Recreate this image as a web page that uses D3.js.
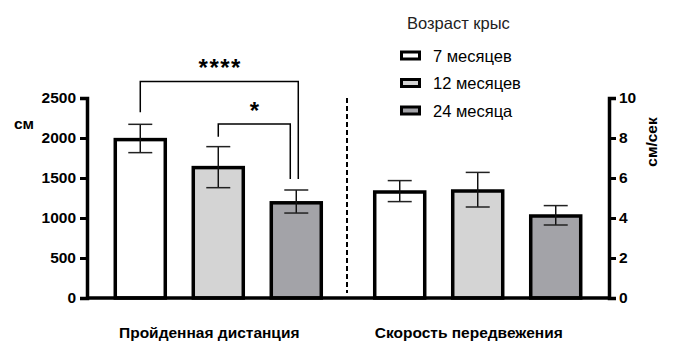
<!DOCTYPE html>
<html><head><meta charset="utf-8">
<script src="https://cdn.jsdelivr.net/npm/d3@7"></script>
<style>
body{margin:0;background:#fff;}
text{font-family:"Liberation Sans",Arial,sans-serif;}
</style></head>
<body><svg id="c" width="675" height="358"></svg>
<script>
const groups = ["Пройденная дистанция", "Скорость передвежения"];
const series = ["7 месяцев", "12 месяцев", "24 месяца"];
const colors = ["#ffffff", "#d4d4d4", "#a3a3a8"];
const distMean = [1980, 1630, 1190];
const distErrLo = [1817, 1379, 1062];
const distErrHi = [2171, 1892, 1350];
const speedMean = [5.3, 5.35, 4.1];
const speedErrLo = [4.82, 4.55, 3.65];
const speedErrHi = [5.87, 6.28, 4.62];
const leftTicks = [0, 500, 1000, 1500, 2000, 2500];
const rightTicks = [0, 2, 4, 6, 8, 10];
const legendTitle = "Возраст крыс";
const leftLabel = "см";
const rightLabel = "см/сек";
// significance: [fromSeries, toSeries, levelValue(cm), label]
const sigFrom = [0, 1];
const sigTo = [2, 2];
const sigLevel = [2705, 2175];
const sigLabel = ["****", "*"];

const svg = d3.select("#c");
const X0 = 87, X1 = 609, Y0 = 298, Y1 = 98;
const yL = d3.scaleLinear().domain([0, 2500]).range([Y0, Y1]);
const yR = d3.scaleLinear().domain([0, 10]).range([Y0, Y1]);
const xg = d3.scalePoint().domain(groups).range([X0, X1]).padding(0.506);
const xs = d3.scaleBand().domain(series).range([-103, 103]).paddingInner(0.359).paddingOuter(0);

const data = [
  {g: groups[0], y: yL, mean: distMean, lo: distErrLo, hi: distErrHi},
  {g: groups[1], y: yR, mean: speedMean, lo: speedErrLo, hi: speedErrHi}
];

data.forEach(d => {
  const cx = xg(d.g);
  series.forEach((s, i) => {
    const x = cx + xs(s), w = xs.bandwidth();
    const c = x + w / 2;
    svg.append("rect").attr("x", x).attr("y", d.y(d.mean[i])).attr("width", w)
      .attr("height", Y0 - d.y(d.mean[i])).attr("fill", colors[i])
      .attr("stroke", "#000").attr("stroke-width", 3.5);
    svg.append("line").attr("x1", c).attr("x2", c).attr("y1", d.y(d.hi[i])).attr("y2", d.y(d.lo[i]))
      .attr("stroke", "#111").attr("stroke-width", 1.5);
    [d.hi[i], d.lo[i]].forEach(v => {
      svg.append("line").attr("x1", c - 12).attr("x2", c + 12).attr("y1", d.y(v)).attr("y2", d.y(v))
        .attr("stroke", "#222").attr("stroke-width", 1.5);
    });
  });
});

// baseline
svg.append("line").attr("x1", X0).attr("x2", X1).attr("y1", Y0).attr("y2", Y0)
  .attr("stroke", "#000").attr("stroke-width", 3.5);

// left axis
const gL = svg.append("g").attr("transform", `translate(${X0},0)`)
  .call(d3.axisLeft(yL).tickValues(leftTicks).tickSize(7).tickPadding(4).tickFormat(d3.format("d")));
// right axis
const gR = svg.append("g").attr("transform", `translate(${X1},0)`)
  .call(d3.axisRight(yR).tickValues(rightTicks).tickSize(7).tickPadding(3).tickFormat(d3.format("d")));
[gL, gR].forEach(g => {
  g.select(".domain").attr("stroke", "#000").attr("stroke-width", 3.5);
  g.selectAll(".tick line").attr("stroke", "#000").attr("stroke-width", 3);
  g.selectAll(".tick text").attr("font-size", 15.5).attr("font-weight", "bold").attr("fill", "#000")
    .attr("font-family", "Liberation Sans, Arial, sans-serif");
});

svg.append("text").attr("x", 24).attr("y", 129).attr("text-anchor", "middle")
  .attr("font-size", 15.5).attr("font-weight", "bold").text(leftLabel);
svg.append("text").attr("transform", "translate(652,142) rotate(-90)").attr("text-anchor", "middle")
  .attr("dy", "0.35em").attr("font-size", 15.5).attr("font-weight", "bold").text(rightLabel);

// dashed separator
svg.append("line").attr("x1", (X0 + X1) / 2 - 1).attr("x2", (X0 + X1) / 2 - 1).attr("y1", Y1).attr("y2", 293)
  .attr("stroke", "#000").attr("stroke-width", 2).attr("stroke-dasharray", "5,3");

// group labels
groups.forEach(g => {
  svg.append("text").attr("x", xg(g) - 9).attr("y", 338).attr("text-anchor", "middle")
    .attr("font-size", 15.5).attr("font-weight", "bold").text(g);
});

// significance brackets
const legOff = [[0, 2], [0, -6]];
const gap = [12, 10];
const labOff = [6, 5];
sigFrom.forEach((f, k) => {
  const t = sigTo[k];
  const cx = xg(groups[0]);
  const xa = cx + xs(series[f]) + xs.bandwidth() / 2 + legOff[k][0];
  const xb = cx + xs(series[t]) + xs.bandwidth() / 2 + legOff[k][1];
  const yTop = yL(sigLevel[k]);
  const ya = yL(distErrHi[f]) - gap[k];
  const yb = yL(distErrHi[t]) - 11;
  svg.append("path").attr("d", `M${xa},${ya}V${yTop}H${xb}V${yb}`)
    .attr("fill", "none").attr("stroke", "#000").attr("stroke-width", 1.5);
  svg.append("text").attr("x", (xa + xb) / 2 + 1).attr("y", yTop - labOff[k] + 12).attr("text-anchor", "middle")
    .attr("font-size", 24).attr("font-weight", "bold").attr("letter-spacing", 1.5)
    .attr("dy", "-0.5em").text(sigLabel[k]);
});

// legend
svg.append("text").attr("x", 407).attr("y", 29).attr("font-size", 16.5).attr("fill", "#222").text(legendTitle);
series.forEach((s, i) => {
  const y = 55.5 + i * 27.5;
  svg.append("rect").attr("x", 401.5).attr("y", y - 3.5).attr("width", 18).attr("height", 7)
    .attr("fill", colors[i]).attr("stroke", "#000").attr("stroke-width", 3);
  svg.append("text").attr("x", 433).attr("y", y + 6).attr("font-size", 16.5).attr("fill", "#000").text(s);
});
</script></body></html>
